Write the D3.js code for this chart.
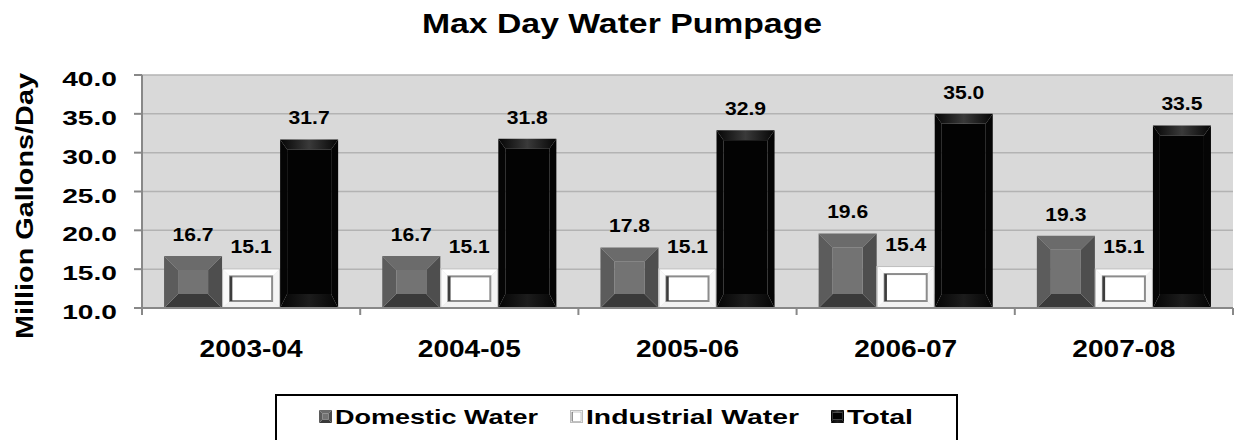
<!DOCTYPE html>
<html><head><meta charset="utf-8">
<script src="https://cdn.jsdelivr.net/npm/d3@7"></script>
<style>body{margin:0;background:#fff}svg{display:block}text{font-family:"Liberation Sans",Arial,sans-serif;font-weight:bold;fill:#000}</style>
</head><body>
<svg id="c" width="1235" height="440"></svg>
<script>
const categories = ["2003-04","2004-05","2005-06","2006-07","2007-08"];
const domestic = [16.7,16.7,17.8,19.6,19.3];
const industrial = [15.1,15.1,15.1,15.4,15.1];
const total = [31.7,31.8,32.9,35.0,33.5];
const seriesNames = ["Domestic Water","Industrial Water","Total"];
const yTicks = [10,15,20,25,30,35,40];
const title = "Max Day Water Pumpage";
const yTitle = "Million Gallons/Day";

const svg = d3.select("#c");
const L=142,R=1233,T=75,B=308;
const x = d3.scaleBand().domain(categories).range([L,R]);
const xs = d3.scaleBand().domain([0,1,2]).range([0,x.bandwidth()]).paddingOuter(0.38);
const y = d3.scaleLinear().domain([10,40]).range([B,T]);

function stretch(sel,f){sel.each(function(){const w=this.getComputedTextLength();d3.select(this).attr("textLength",w*f).attr("lengthAdjust","spacingAndGlyphs");});}
function fitW(sel,w){sel.attr("textLength",w).attr("lengthAdjust","spacingAndGlyphs");}

const defs = svg.append("defs");
const g1 = defs.append("linearGradient").attr("id","blkTop");
g1.append("stop").attr("offset","0").attr("stop-color","#050505");
g1.append("stop").attr("offset","0.5").attr("stop-color","#3a3a3a");
g1.append("stop").attr("offset","1").attr("stop-color","#050505");
const g2 = defs.append("linearGradient").attr("id","blkBot");
g2.append("stop").attr("offset","0").attr("stop-color","#050505");
g2.append("stop").attr("offset","0.5").attr("stop-color","#1c1c1c");
g2.append("stop").attr("offset","1").attr("stop-color","#050505");

svg.append("rect").attr("x",L).attr("y",T).attr("width",R-L).attr("height",B-T).attr("fill","#d9d9d9");
svg.append("g").selectAll("line").data(yTicks.slice(1)).join("line")
  .attr("x1",L).attr("x2",R).attr("y1",d=>y(d)).attr("y2",d=>y(d))
  .attr("stroke","#b3b3b3").attr("stroke-width",1.5);

const styles = [
  {ins:[14,14,14,14], top:"#6b6b6b", bot:"#3a3a3a", left:"#5c5c5c", right:"#4e4e4e", mid:"#737373"},
  {ins:[8,8,8,7], top:"#ffffff", bot:"#f2f2f2", left:"#fafafa", right:"#f4f4f4", mid:"#ffffff"},
  {ins:[7,10,7,14], top:"url(#blkTop)", bot:"url(#blkBot)", left:"#050505", right:"#050505", mid:"#030303"}
];

function bevel(g,x0,y0,w,h,s,k){
  let [l,t,r,b]=s.ins.map(v=>v*k);
  if(t+b>h-2){const f=(h-2)/(t+b);t*=f;b*=f;}
  const x1=x0+w,y1=y0+h;
  const P=pts=>pts.map(p=>p.join(",")).join(" ");
  g.append("polygon").attr("points",P([[x0,y0],[x1,y0],[x1-r,y0+t],[x0+l,y0+t]])).attr("fill",s.top);
  g.append("polygon").attr("points",P([[x0,y1],[x1,y1],[x1-r,y1-b],[x0+l,y1-b]])).attr("fill",s.bot);
  g.append("polygon").attr("points",P([[x0,y0],[x0+l,y0+t],[x0+l,y1-b],[x0,y1]])).attr("fill",s.left);
  g.append("polygon").attr("points",P([[x1,y0],[x1-r,y0+t],[x1-r,y1-b],[x1,y1]])).attr("fill",s.right);
  g.append("rect").attr("x",x0+l).attr("y",y0+t).attr("width",Math.max(0,w-l-r)).attr("height",Math.max(0,h-t-b)).attr("fill",s.mid);
  return {l,t,r,b};
}

function drawBar(g,si,x0,y0,w,h,k){
  k=k||1;
  const s=styles[si];
  const ins=bevel(g,x0,y0,w,h,s,k);
  if(si===1){
    g.append("rect").attr("x",x0+0.5).attr("y",y0+0.5).attr("width",w-1).attr("height",h-1)
      .attr("fill","none").attr("stroke","#bdbdbd").attr("stroke-width",1);
    g.append("rect").attr("x",x0+ins.l).attr("y",y0+ins.t).attr("width",w-ins.l-ins.r).attr("height",h-ins.t-ins.b)
      .attr("fill","#fff").attr("stroke","#8c8c8c").attr("stroke-width",2*k);
    g.append("line").attr("x1",x0+ins.l+1*k).attr("x2",x0+ins.l+1*k).attr("y1",y0+ins.t).attr("y2",y0+h-ins.b)
      .attr("stroke","#3c3c3c").attr("stroke-width",2.5*k);
  }
}

const allSeries=[domestic,industrial,total];
const bars=svg.append("g");
const labels=svg.append("g");
categories.forEach((c,i)=>{
  allSeries.forEach((ser,si)=>{
    const v=ser[i];
    const x0=x(c)+xs(si), w=xs.bandwidth(), y0=y(v), h=y(10)-y(v);
    drawBar(bars,si,x0,y0,w,h);
    labels.append("text").attr("x",x0+w/2).attr("y",y0-15).attr("text-anchor","middle")
      .attr("font-size",19).text(v.toFixed(1));
  });
});
stretch(labels.selectAll("text"),1.11);

svg.append("line").attr("x1",L).attr("x2",L).attr("y1",T).attr("y2",B+7).attr("stroke","#888").attr("stroke-width",2);
svg.append("line").attr("x1",L-8).attr("x2",R).attr("y1",B).attr("y2",B).attr("stroke","#888").attr("stroke-width",2);
svg.append("g").selectAll("line").data(yTicks).join("line")
  .attr("x1",L-8).attr("x2",L).attr("y1",d=>y(d)).attr("y2",d=>y(d)).attr("stroke","#888").attr("stroke-width",2);
const yl=svg.append("g").selectAll("text").data(yTicks).join("text")
  .attr("x",117).attr("y",d=>y(d)+11).attr("text-anchor","end").attr("font-size",21).text(d3.format(".1f"));
stretch(yl,1.34);
svg.append("g").selectAll("line").data(categories.map(c=>x(c)).concat([R])).join("line")
  .attr("x1",d=>d).attr("x2",d=>d).attr("y1",B).attr("y2",B+7).attr("stroke","#888").attr("stroke-width",2);
const xl=svg.append("g").selectAll("text").data(categories).join("text")
  .attr("x",d=>x(d)+x.bandwidth()/2).attr("y",357).attr("text-anchor","middle").attr("font-size",24).text(d=>d);
stretch(xl,1.17);

const tt=svg.append("text").attr("x",622).attr("y",33).attr("text-anchor","middle").attr("font-size",28).text(title);
fitW(tt,400);
const yt=svg.append("text").attr("transform","translate(33,206) rotate(-90)").attr("text-anchor","middle").attr("font-size",23).text(yTitle);
fitW(yt,266);

// legend
const lg=svg.append("g");
lg.append("rect").attr("x",276).attr("y",395).attr("width",681).attr("height",60).attr("fill","#fff").attr("stroke","#000").attr("stroke-width",2);
const legSym=[319,570,831];
const legTxt=[335,586,847];
const legW=[203,213,66];
seriesNames.forEach((n,i)=>{
  const gg=lg.append("g");
  drawBar(gg,i,legSym[i],410,13,13,0.25);
  const t=lg.append("text").attr("x",legTxt[i]).attr("y",424).attr("font-size",20).text(n);
  fitW(t,legW[i]);
});
</script>
</body></html>
